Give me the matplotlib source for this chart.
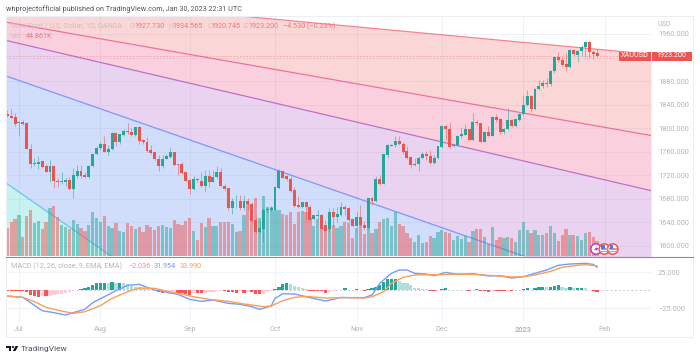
import matplotlib
matplotlib.use("Agg")
import matplotlib.pyplot as plt
from matplotlib.patches import Rectangle, Circle, Polygon
from matplotlib.transforms import IdentityTransform
import numpy as np

# daily candles XAUUSD
opens = [1824,1821,1819,1808,1810,1809,1765,1739,1740,1744,
         1735,1726,1736,1710,1708,1709,1712,1697,1719,1728,
         1721,1717,1735,1756,1766,1773,1760,1765,1792,1776,
         1789,1795,1794,1789,1802,1780,1777,1763,1759,1748,
         1736,1748,1751,1759,1739,1739,1725,1712,1697,1713,
         1711,1702,1719,1709,1717,1725,1702,1698,1664,1676,
         1676,1664,1676,1672,1644,1623,1629,1661,1661,1661,
         1698,1728,1718,1713,1695,1670,1666,1674,1667,1645,
         1651,1653,1635,1628,1658,1649,1653,1666,1664,1645,
         1634,1649,1636,1630,1682,1677,1714,1705,1755,1770,
         1771,1779,1774,1761,1751,1738,1739,1750,1756,1753,
         1741,1750,1768,1804,1798,1769,1771,1786,1789,1798,
         1780,1811,1808,1777,1794,1787,1819,1815,1793,1798,
         1814,1804,1814,1824,1839,1855,1832,1866,1871,1876,
         1875,1897,1921,1916,1909,1904,1932,1925,1931,1938,
         1946,1929,1927.73]
highs = [1831,1832,1825,1813,1814,1811,1773,1749,1753,1744,
         1740,1746,1738,1715,1726,1715,1717,1732,1738,1738,
         1726,1738,1757,1769,1777,1787,1772,1794,1794,1790,
         1798,1808,1800,1802,1803,1782,1785,1772,1760,1755,
         1755,1757,1766,1760,1740,1743,1726,1713,1718,1715,
         1726,1729,1729,1729,1735,1732,1706,1698,1681,1687,
         1687,1687,1681,1675,1649,1644,1664,1667,1668,1702,
         1730,1729,1721,1718,1700,1685,1675,1677,1670,1653,
         1661,1654,1644,1664,1664,1667,1675,1670,1666,1647,
         1658,1670,1643,1682,1683,1718,1721,1757,1773,1774,
         1786,1786,1776,1769,1752,1749,1753,1759,1761,1763,
         1755,1770,1806,1806,1810,1774,1789,1802,1807,1798,
         1825,1814,1808,1795,1803,1820,1824,1817,1800,1834,
         1815,1817,1825,1857,1865,1857,1868,1882,1882,1885,
         1899,1922,1929,1922,1927,1934,1934,1933,1942,1947,
         1948,1933,1934.565]
lows = [1819,1817,1803,1786,1806,1765,1733,1735,1731,1732,
        1725,1708,1699,1700,1706,1702,1695,1682,1715,1715,
        1715,1716,1734,1755,1763,1760,1755,1763,1769,1774,
        1787,1790,1787,1787,1774,1774,1760,1756,1746,1728,
        1732,1747,1749,1736,1721,1722,1709,1689,1695,1709,
        1701,1692,1701,1708,1715,1700,1694,1661,1655,1664,
        1661,1661,1661,1641,1622,1622,1607,1658,1659,1661,
        1696,1715,1711,1692,1667,1664,1664,1644,1643,1644,
        1645,1628,1624,1624,1633,1640,1651,1653,1641,1633,
        1633,1634,1627,1628,1670,1675,1704,1705,1749,1769,
        1768,1772,1757,1748,1733,1736,1728,1748,1746,1739,
        1739,1748,1766,1780,1766,1768,1769,1783,1788,1778,
        1779,1806,1776,1776,1786,1786,1811,1790,1790,1797,
        1802,1802,1813,1823,1838,1827,1831,1865,1868,1870,
        1871,1893,1912,1906,1897,1902,1923,1912,1922,1921,
        1919,1917,1920.745]
closes = [1820,1818,1807,1810,1807,1765,1740,1741,1743,1734,
          1726,1736,1710,1708,1710,1712,1697,1720,1728,1718,
          1717,1735,1757,1767,1773,1760,1765,1792,1776,1790,
          1795,1793,1789,1802,1779,1776,1761,1758,1747,1736,
          1748,1752,1759,1738,1738,1724,1711,1697,1713,1712,
          1702,1719,1708,1717,1725,1702,1697,1664,1676,1677,
          1664,1676,1672,1643,1623,1630,1661,1663,1665,1701,
          1728,1716,1713,1694,1668,1666,1674,1666,1644,1652,
          1653,1629,1626,1658,1649,1654,1666,1663,1644,1634,
          1649,1636,1630,1682,1676,1714,1705,1756,1772,1772,
          1779,1774,1760,1750,1738,1740,1750,1756,1753,1741,
          1750,1769,1804,1798,1768,1771,1787,1790,1798,1780,
          1811,1808,1777,1794,1787,1819,1814,1793,1798,1814,
          1804,1815,1824,1840,1855,1832,1866,1872,1876,1875,
          1897,1921,1915,1907,1904,1933,1926,1931,1938,1946,
          1929,1926,1923.2]
# volume, thousands
volumes = [83,103,110,122,57,120,138,98,105,81,
           103,144,150,116,93,86,81,107,96,83,
           76,93,133,113,102,119,91,83,100,76,
           72,100,91,81,86,71,94,88,79,90,
           93,88,85,108,96,94,104,114,74,49,
           99,88,114,91,89,103,103,102,96,72,
           75,122,159,155,174,115,179,147,147,139,
           138,127,124,131,97,132,134,131,117,91,
           112,94,82,114,94,84,89,101,98,55,
           84,93,65,83,68,81,103,110,113,91,
           131,96,90,70,53,42,63,40,41,60,
           54,71,78,72,68,49,60,51,60,43,
           76,81,80,56,37,86,48,57,55,56,
           53,41,77,103,79,69,79,64,64,69,
           89,69,44,62,82,62,64,61,49,69,
           72,57,44.861]
# macd histogram
hist = [-1.5,-1.5,-1.5,-1.5,-1.5,-2,-6.5,-8,-9,-8,
        -8,-7.5,-7,-5.5,-5,-4,-3,-1.5,0.5,2,
        3,5,7,9.7,10.6,10.6,10,11.6,10.6,10.7,
        9.7,8.8,6.5,5,4,3,2,1,0.3,-3,
        -4,-3,-2,-1.5,-3.2,-4,-5,-6,-4,-4,
        -4,-3.2,-3,-2,-1.5,-0.5,-1,-2,-3,-3.7,
        -1.5,-3.7,-2,-2.5,-4.5,-5.5,-5.3,-3,-0.5,1.4,
        5,8.8,10.2,9.3,6,4.2,3.2,2.3,-0.5,-0.5,
        -1,-1.4,-4.2,-1.9,-0.5,-0.2,1,2.8,1,0.2,
        1.4,-0.2,-1,2.3,3.7,5,7.4,11.6,15.7,15.8,
        15.8,13.4,10.6,9.7,6.9,3.7,2.8,2.3,1.9,-0.9,
        -0.9,0.3,1.4,3.2,0.9,0.5,0.5,0.5,0.5,-0.5,
        0.5,1.4,-0.9,-1.4,-2.3,-0.3,-0.3,-1.4,-1.4,-0.5,
        -1.4,-0.2,0.2,1.4,2.8,0.5,2.8,4.6,4.6,4.2,
        5,6.5,7.4,5,3.7,4.2,3.2,3.2,3.2,2.8,
        0.9,-0.5,-2.036]
macd_idx = [0,4,6,9,12,15,17,20,22,25,28,31,34,36,38,41,44,47,50,53,57,60,63,65,68,69,71,74,77,82,86,88,
            92,94,96,99,101,103,105,108,110,113,116,120,124,127,130,133,136,139,142,145,149,151,152]
macd_line = [-8,-9.8,-17.2,-28.3,-31,-34.3,-31,-26.4,-17.2,-8.9,-0.5,6.9,8.3,4.1,0.4,-2.8,-5.6,-12.6,-15.3,-13.5,-18.1,-19.5,-22.7,-26.4,-21.8,-11.2,-4.7,-5.1,-8.9,-14.9,-9.8,-10.2,
             -10.2,-6.5,9.7,23.6,28.2,28.2,23.6,22.6,20.3,24.9,22.2,23.1,19.9,20.3,17.1,18.9,23.6,28.2,34.7,36.5,37.5,36,31.954]
signal_idx = [0,4,7,10,14,17,20,24,27,31,34,38,41,44,48,52,57,61,66,68,71,74,77,82,88,
              92,94,97,99,102,105,108,112,116,120,124,127,130,133,136,140,143,147,149,152]
signal_line = [-8,-9.8,-15.8,-23.7,-28.8,-32,-29.7,-21.3,-11.2,-1.9,3.2,2.7,-1,-4.2,-8.9,-12.6,-15.3,-19,-22.7,-21.8,-14.4,-9.8,-8.4,-10.7,-10.2,
               -10.7,-8.9,-1.9,9.7,18,21.2,21.7,21.7,22.6,22.2,20.8,19.9,18.5,18.9,21.2,26.3,31.9,34.7,35.6,33.99]

price_ticks = [1600,1640,1680,1720,1760,1800,1840,1880,1920,1960]
price_labels = ["1600.000","1640.000","1680.000","1720.000","1760.000","1800.000","1840.000","1880.000","","1960.000"]
month_idx = [3,24,47,69,90,112,133,154]
month_names = ["Jul","Aug","Sep","Oct","Nov","Dec","2023","Feb"]

# fan lines, price at left and right edge of the pane
fan_left = [2027.5,1980,1949,1888.7,1707]
fan_right = [1925.5,1787.6,1694,1507.5,946]
fan_lines = ["#f2838f","#f0709a","#bd6fc8","#8096f8","#68c8ea"]
fan_fills = ["#fbd6d6","#fbd0de","#e9d3f0","#d0defc","#c8f2f0"]

W, H = 700, 359
RED = "#ef5350"
TEAL = "#26a69a"
GREY = "#b2b5be"
plt.rcParams["font.family"] = ["Roboto", "DejaVu Sans"]

fig = plt.figure(figsize=(7, 3.59), dpi=100)

def pane(x0, y0, x1, y1):
    return fig.add_axes([x0/W, 1-y1/H, (x1-x0)/W, (y1-y0)/H])

def txt(x, y, s, color=GREY, size=5.1, ha="left", **kw):
    fig.text(x/W, 1-y/H, s, color=color, fontsize=size, ha=ha, va="center", zorder=30, **kw)

xs = np.arange(len(closes))
xlim = (-0.335, 165.9)

ax = pane(6, 16, 651, 256)
ax.set_xlim(xlim)
ax.set_ylim(1583, 1990.5)

# fan
edge_x = np.array(xlim)
for i in range(5):
    top = [fan_left[i], fan_right[i]]
    if i < 4:
        bot = [fan_left[i+1], fan_right[i+1]]
    else:
        bot = [900, 900]
    ax.fill_between(edge_x, bot, top, color=fan_fills[i], lw=0, zorder=1)
    ax.plot(edge_x, top, color=fan_lines[i], lw=0.9, zorder=2)

ax.set_yticks(price_ticks)
ax.set_yticklabels(price_labels)
ax.set_xticks(month_idx)
ax.set_xticklabels([])
ax.grid(True, color="#9094b0", alpha=0.13, lw=0.7, zorder=1.5)
ax.set_axisbelow(False)

up = np.array(closes) >= np.array(opens)
colors = [TEAL if u else RED for u in up]

ax.axhline(closes[-1], color=RED, lw=0.6, ls=(0, (2, 2)), alpha=0.4, zorder=2)

# volume shares the pane
vax = ax.twinx()
vax.set_ylim(0, 720)
vax.set_xlim(xlim)
vax.set_yticks([])
vax.bar(xs, volumes, width=0.84, color=colors, alpha=0.5, lw=0, zorder=3)
vax.set_zorder(ax.get_zorder()+1)
vax.patch.set_visible(False)

# candles on top
cax = ax.twinx()
cax.set_ylim(ax.get_ylim())
cax.set_xlim(xlim)
cax.set_yticks([])
cax.set_zorder(vax.get_zorder()+1)
cax.patch.set_visible(False)
cax.vlines(xs, lows, highs, color=colors, lw=0.7, alpha=0.55, zorder=3)
cax.bar(xs, np.array(closes)-np.array(opens), bottom=opens, width=0.76, color=colors, lw=0, zorder=4)

# twinx moved the ticks, so set this last
ax.yaxis.tick_right()
ax.tick_params(axis="both", length=0, labelsize=5.3, labelcolor=GREY, pad=5)

for a in (ax, vax, cax):
    for s in a.spines.values():
        s.set_visible(False)

# macd pane
mx = pane(6, 257, 651, 322)
mx.set_xlim(xlim)
mx.set_ylim(-44, 46.25)
hist_colors = []
for i, v in enumerate(hist):
    prev = hist[i-1] if i > 0 else 0
    if v >= 0:
        hist_colors.append("#26a69a" if v >= prev else "#b2dfdb")
    else:
        hist_colors.append("#ff5252" if v <= prev else "#ffcdd2")
mx.bar(xs, hist, width=0.85, color=hist_colors, lw=0, zorder=3)
mx.plot(macd_idx, macd_line, color="#7a9cf8", lw=1.0, zorder=4)
mx.plot(signal_idx, signal_line, color="#f9a05a", lw=1.0, zorder=5)
mx.axhline(0, color="#b8bbc6", lw=0.6, ls=(0, (2, 3)), zorder=2)
mx.set_yticks([-25, 25])
mx.set_yticklabels(["\u221225.000", "25.000"])
mx.set_xticks(month_idx)
mx.set_xticklabels(month_names)
mx.get_xticklabels()[6].set_fontweight("bold")
mx.grid(True, color="#f0f3fa", lw=0.8, zorder=1)
mx.set_axisbelow(True)
mx.yaxis.tick_right()
mx.tick_params(axis="both", length=0, labelsize=5.3, labelcolor=GREY)
mx.tick_params(axis="y", pad=5)
mx.tick_params(axis="x", pad=3)
for s in mx.spines.values():
    s.set_visible(False)

# frame, divider
px = IdentityTransform()
def py(y):
    return H - y
def shape(p):
    p.set_zorder(20)
    fig.add_artist(p)
shape(Rectangle((6, py(337)), 687, 321, transform=px, fill=False, ec="#eceef4", lw=0.8))
shape(plt.Line2D([6, 693], [py(256.5), py(256.5)], transform=px, color="#8a8d98", lw=0.8))

# last price tags
shape(Rectangle((618.5, py(60.7)), 32.5, 9, transform=px, fc=RED, ec="none"))
shape(Rectangle((652, py(60.7)), 39.5, 9, transform=px, fc=RED, ec="none"))
txt(634.5, 55.8, "XAUUSD", color="white", ha="center", size=5.2)
txt(671.5, 55.8, "1923.200", color="white", ha="center", size=5.2)
txt(658, 24, "USD", size=5.1)

# event icons
for cx, ec in [(596, "#ab47bc"), (604.3, RED), (612.7, RED)]:
    shape(Circle((cx, py(249)), 5.2, transform=px, fc="white", ec=ec, lw=1.1))
shape(Polygon([(597.5, py(245.5)), (594, py(250)), (596.5, py(250)), (595, py(253)), (598.5, py(248)), (596.3, py(248))],
              transform=px, fc="#ab47bc", ec="none"))
for cx in (604.3, 612.7):
    shape(Rectangle((cx-3.8, py(249.5)), 7.6, 1.2, transform=px, fc="#f08a8a", ec="none"))
    shape(Rectangle((cx-3.8, py(252)), 7.6, 1.2, transform=px, fc="#f08a8a", ec="none"))
    shape(Rectangle((cx-3, py(249)), 3.2, 3.6, transform=px, fc="#4a7fe0", ec="none"))

# header and legends
txt(6, 9.5, "whprojectofficial published on TradingView.com, Jan 30, 2023 22:31 UTC", color="#50535e", size=5.2)
txt(11, 26, "Gold Spot / U.S. Dollar, 1D, OANDA", color="#c9bfc2", size=5.2)
for x, s in [(130, "O"), (168, "H"), (207, "L"), (244, "C")]:
    txt(x, 26, s, color="#c9bfc2", size=5.2)
for x, s in [(134.5, "1927.730"), (172.5, "1934.565"), (210.5, "1920.745"), (248, "1923.200"), (283, "\u22124.530 (\u22120.23%)")]:
    txt(x, 26, s, color="#f0787a", size=5.2)
txt(11, 36, "Vol", color="#c9bfc2", size=5.2)
txt(25.5, 36, "44.861K", color="#f0787a", size=5.2)
txt(11, 266.7, "MACD (12, 26, close, 9, EMA, EMA)", size=5.2)
txt(128, 266.7, "\u22122.036", color="#ff8a8a", size=5.2)
txt(154, 266.7, "31.954", color="#7a9cf8", size=5.2)
txt(180, 266.7, "33.990", color="#f9a05a", size=5.2)

# logo
shape(Polygon([(6, py(346)), (11, py(346)), (11, py(351)), (8.8, py(351)), (8.8, py(348)), (6, py(348))],
              transform=px, fc="#131722", ec="none"))
shape(Circle((12.9, py(347)), 1.1, transform=px, fc="#131722", ec="none"))
shape(Polygon([(15.5, py(346)), (18.3, py(346)), (15.6, py(351)), (12.8, py(351))],
              transform=px, fc="#131722", ec="none"))
txt(20.5, 348.5, "TradingView", color="#50535e", size=6)

plt.savefig("out.png", dpi=100)
